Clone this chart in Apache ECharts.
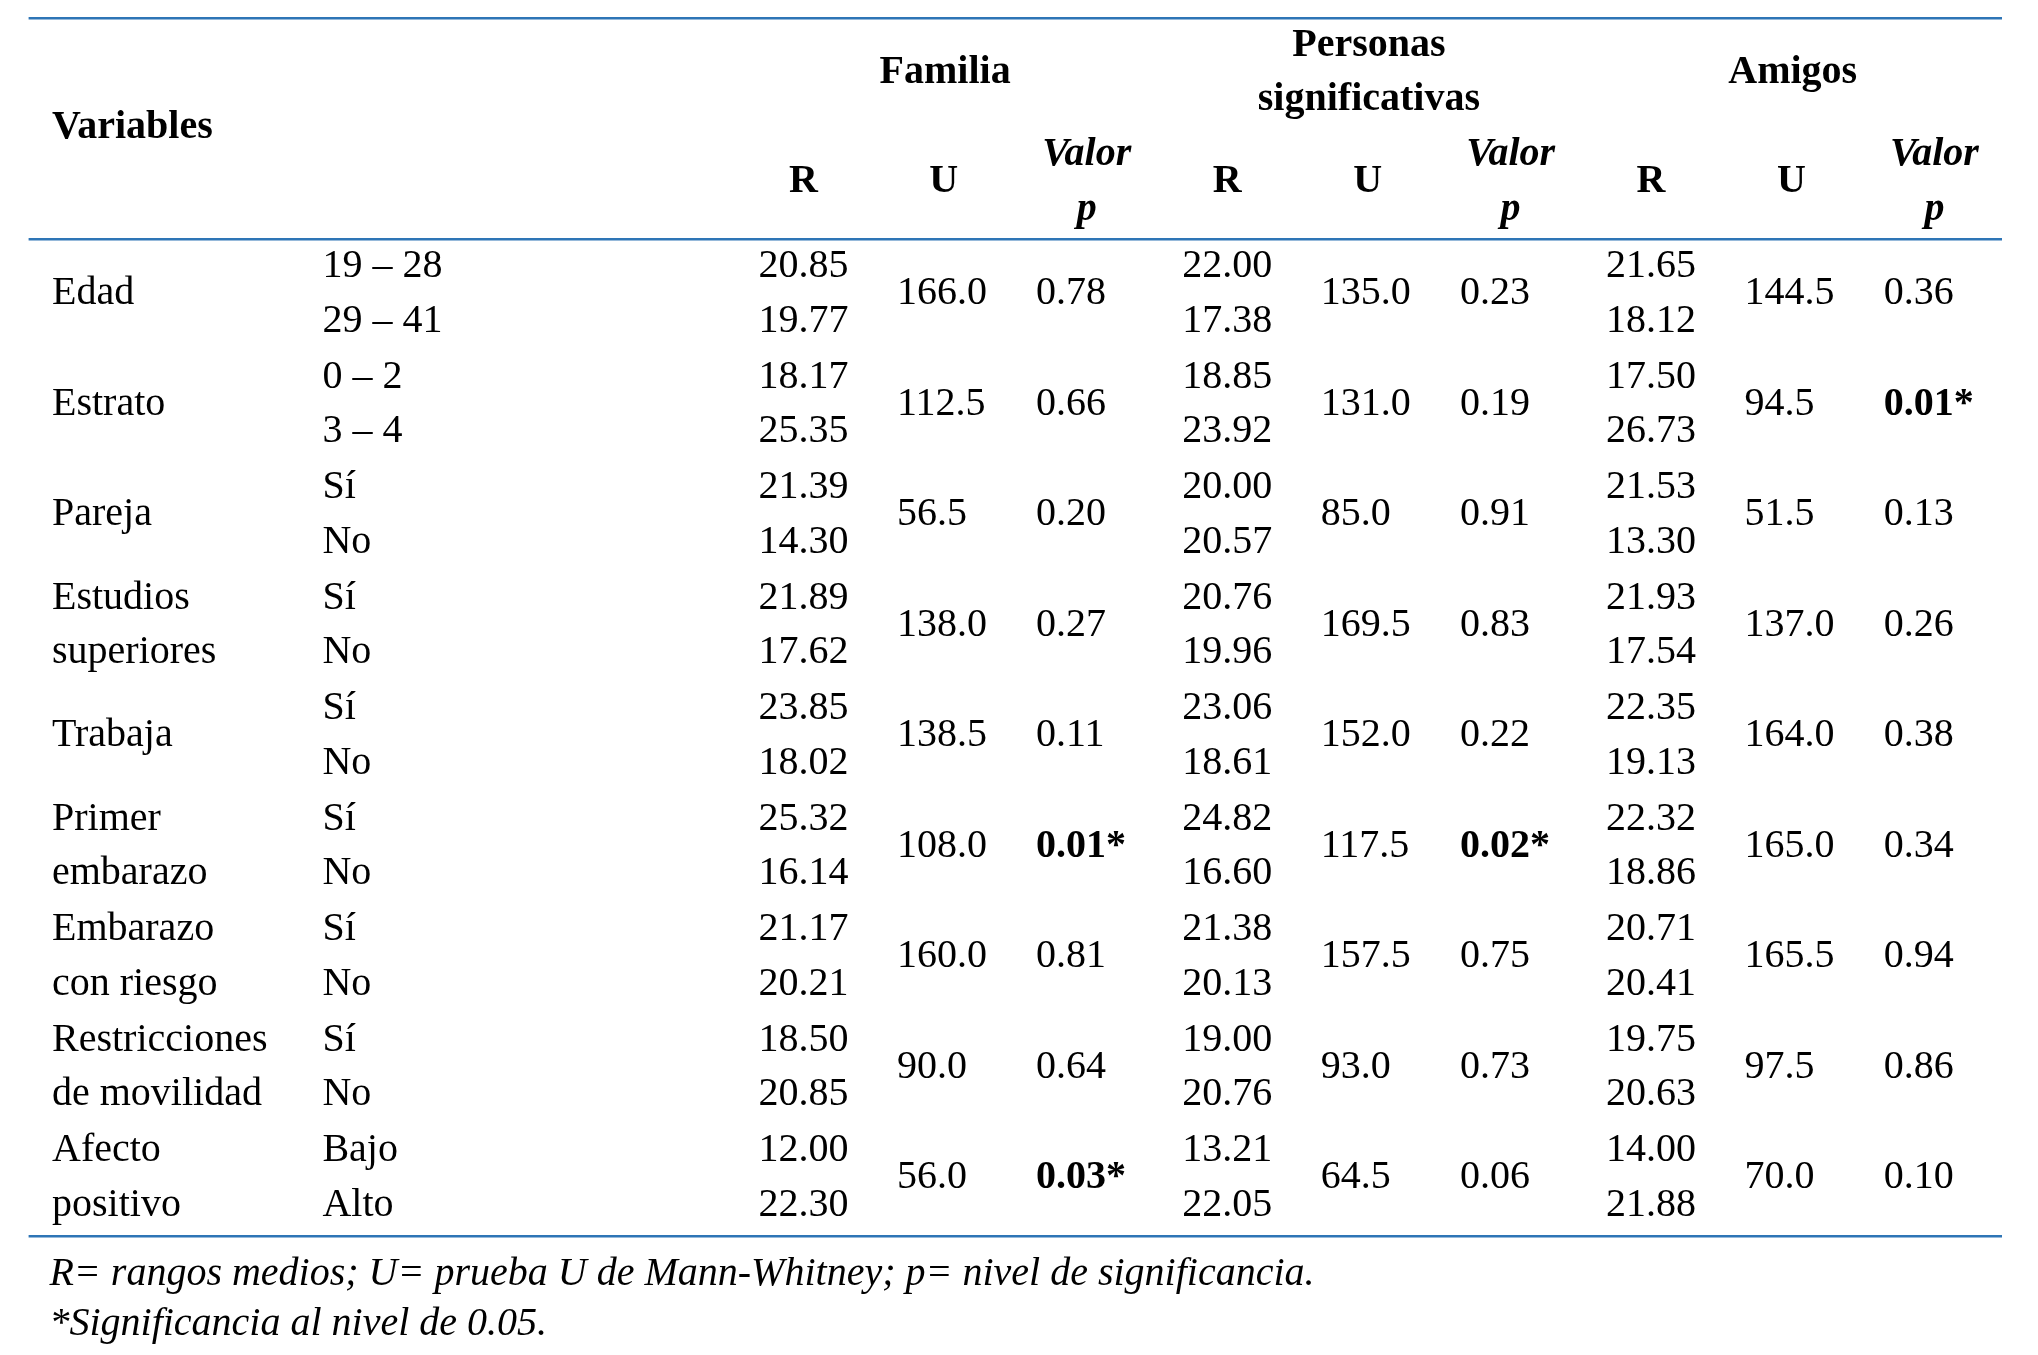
<!DOCTYPE html>
<html><head><meta charset="utf-8">
<script src="https://cdn.jsdelivr.net/npm/echarts@6/dist/echarts.min.js"></script>
<style>html,body{margin:0;background:#fff}#c{width:2038px;height:1355px}</style>
</head><body><div id="c"></div>
<script>
// table data
var variables = [['Edad'], ['Estrato'], ['Pareja'], ['Estudios', 'superiores'], ['Trabaja'],
	['Primer', 'embarazo'], ['Embarazo', 'con riesgo'], ['Restricciones', 'de movilidad'], ['Afecto', 'positivo']];
var levels = [['19 – 28', '29 – 41'], ['0 – 2', '3 – 4'], ['Sí', 'No'], ['Sí', 'No'], ['Sí', 'No'],
	['Sí', 'No'], ['Sí', 'No'], ['Sí', 'No'], ['Bajo', 'Alto']];
var groups = ['Familia', 'Personas\nsignificativas', 'Amigos'];
var familiaR = [['20.85', '19.77'], ['18.17', '25.35'], ['21.39', '14.30'], ['21.89', '17.62'], ['23.85', '18.02'],
	['25.32', '16.14'], ['21.17', '20.21'], ['18.50', '20.85'], ['12.00', '22.30']];
var familiaU = ['166.0', '112.5', '56.5', '138.0', '138.5', '108.0', '160.0', '90.0', '56.0'];
var familiaP = ['0.78', '0.66', '0.20', '0.27', '0.11', '0.01*', '0.81', '0.64', '0.03*'];
var personasR = [['22.00', '17.38'], ['18.85', '23.92'], ['20.00', '20.57'], ['20.76', '19.96'], ['23.06', '18.61'],
	['24.82', '16.60'], ['21.38', '20.13'], ['19.00', '20.76'], ['13.21', '22.05']];
var personasU = ['135.0', '131.0', '85.0', '169.5', '152.0', '117.5', '157.5', '93.0', '64.5'];
var personasP = ['0.23', '0.19', '0.91', '0.83', '0.22', '0.02*', '0.75', '0.73', '0.06'];
var amigosR = [['21.65', '18.12'], ['17.50', '26.73'], ['21.53', '13.30'], ['21.93', '17.54'], ['22.35', '19.13'],
	['22.32', '18.86'], ['20.71', '20.41'], ['19.75', '20.63'], ['14.00', '21.88']];
var amigosU = ['144.5', '94.5', '51.5', '137.0', '164.0', '165.0', '165.5', '97.5', '70.0'];
var amigosP = ['0.36', '0.01*', '0.13', '0.26', '0.38', '0.34', '0.94', '0.86', '0.10'];
var notes = ['R= rangos medios; U= prueba U de Mann-Whitney; p= nivel de significancia.', '*Significancia al nivel de 0.05.'];

var s = 1.3;
var FS = Math.round(31 * s);
var font = 'Liberation Serif';
var els = [];
function txt(t, x, y, align, bold, italic) {
	els.push({ type: 'text', x: x * s, y: y * s, style: {
		text: t, x: 0, y: 0, align: align || 'left', verticalAlign: 'middle',
		font: (italic ? 'italic ' : '') + (bold ? 'bold ' : '') + FS + 'px "' + font + '"',
		fill: '#000', lineHeight: 42 * s } });
}
function line(y) {
	els.push({ type: 'line', shape: { x1: 22 * s, y1: y * s, x2: 1540 * s, y2: y * s },
		style: { stroke: '#2e75b6', lineWidth: 2.5 } });
}
line(14); line(184); line(951);
txt('Variables', 40, 98, 'left', true);
var gx = [727, 1053, 1379];
groups.forEach(function(g, i) {
	txt(g, gx[i], 56, 'center', true);
	var o = (i) * 326;
	txt('R', 618 + o, 140, 'center', true);
	txt('U', 726 + o, 140, 'center', true);
	txt('Valor', 836 + o, 119, 'center', true, true);
	txt('p', 836 + o, 161, 'center', true, true);
});
var cols = [[familiaR, familiaU, familiaP], [personasR, personasU, personasP], [amigosR, amigosU, amigosP]];
for (var i = 0; i < variables.length; i++) {
	var y1 = 205 + i * 85, y2 = y1 + 42, ym = y1 + 21;
	if (variables[i].length === 1) txt(variables[i][0], 40, ym);
	else { txt(variables[i][0], 40, y1); txt(variables[i][1], 40, y2); }
	txt(levels[i][0], 248, y1); txt(levels[i][1], 248, y2);
	cols.forEach(function(c, k) {
		var o = k * 326;
		txt(c[0][i][0], 618 + o, y1, 'center');
		txt(c[0][i][1], 618 + o, y2, 'center');
		txt(c[1][i], 690 + o, ym);
		var p = c[2][i];
		txt(p, 797 + o, ym, 'left', p.indexOf('*') >= 0);
	});
}
txt(notes[0], 38, 980, 'left', false, true);
txt(notes[1], 38, 1019, 'left', false, true);

var chart = echarts.init(document.getElementById('c'));
chart.setOption({ backgroundColor: '#fff', graphic: { elements: els } });
</script></body></html>
